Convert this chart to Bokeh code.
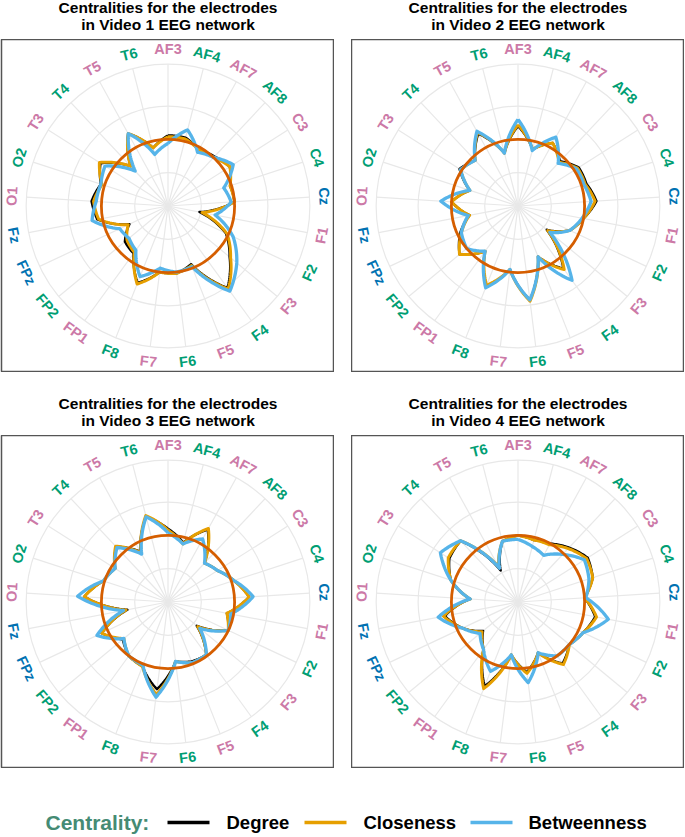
import numpy as np
from bokeh.plotting import figure
from bokeh.layouts import column, row, Spacer
from bokeh.models import Range1d
from bokeh.embed import file_html
from bokeh.resources import INLINE
from bokeh.core.properties import value

# ---------------- data ----------------
electrodes = ["AF3", "AF4", "AF7", "AF8", "C3", "C4", "Cz", "F1", "F2", "F3", "F4", "F5", "F6",
              "F7", "F8", "FP1", "FP2", "FPz", "Fz", "O1", "O2", "T3", "T4", "T5", "T6"]
videos = ["Video 1", "Video 2", "Video 3", "Video 4"]
series_names = ["Degree", "Closeness", "Betweenness"]
title_line1 = "Centralities for the electrodes"
title_line2 = "in {} EEG network"
legend_title = "Centrality:"

degree_v1 = [0.53, 0.53, 0.48, 0.51, 0.55, 0.49, 0.50, 0.24, 0.48, 0.60, 0.76, 0.47, 0.51,
             0.50, 0.62, 0.44, 0.42, 0.32, 0.54, 0.575, 0.53, 0.60, 0.41, 0.62, 0.45]
closeness_v1 = [0.52, 0.52, 0.48, 0.50, 0.55, 0.49, 0.50, 0.26, 0.49, 0.61, 0.77, 0.48, 0.51,
                0.50, 0.63, 0.43, 0.40, 0.33, 0.53, 0.56, 0.52, 0.61, 0.41, 0.62, 0.45]
betweenness_v1 = [0.47, 0.59, 0.46, 0.50, 0.58, 0.44, 0.475, 0.36, 0.54, 0.67, 0.79, 0.49, 0.50,
                  0.47, 0.57, 0.41, 0.38, 0.40, 0.58, 0.54, 0.53, 0.56, 0.36, 0.62, 0.40]

degree_v2 = [0.60, 0.44, 0.54, 0.46, 0.54, 0.54, 0.59, 0.50, 0.43, 0.28, 0.58, 0.41, 0.71,
             0.48, 0.65, 0.42, 0.57, 0.48, 0.37, 0.50, 0.38, 0.52, 0.47, 0.62, 0.41]
closeness_v2 = [0.61, 0.44, 0.54, 0.45, 0.53, 0.53, 0.58, 0.50, 0.43, 0.29, 0.59, 0.41, 0.72,
                0.48, 0.64, 0.42, 0.57, 0.47, 0.37, 0.50, 0.38, 0.51, 0.47, 0.63, 0.41]
betweenness_v2 = [0.65, 0.43, 0.59, 0.44, 0.52, 0.52, 0.55, 0.49, 0.43, 0.31, 0.69, 0.41, 0.71,
                  0.48, 0.66, 0.42, 0.50, 0.47, 0.38, 0.58, 0.38, 0.51, 0.47, 0.64, 0.41]

degree_v3 = [0.55, 0.46, 0.62, 0.40, 0.44, 0.52, 0.61, 0.45, 0.50, 0.28, 0.49, 0.48, 0.45,
             0.66, 0.52, 0.50, 0.44, 0.55, 0.31, 0.63, 0.51, 0.47, 0.57, 0.43, 0.66]
closeness_v3 = [0.54, 0.45, 0.63, 0.40, 0.44, 0.52, 0.61, 0.45, 0.50, 0.29, 0.49, 0.49, 0.45,
                0.70, 0.52, 0.50, 0.43, 0.55, 0.32, 0.63, 0.51, 0.47, 0.575, 0.42, 0.67]
betweenness_v3 = [0.52, 0.45, 0.54, 0.40, 0.44, 0.52, 0.64, 0.48, 0.50, 0.31, 0.49, 0.49, 0.45,
                  0.72, 0.51, 0.50, 0.43, 0.59, 0.34, 0.68, 0.51, 0.47, 0.56, 0.41, 0.66]

degree_v4 = [0.50, 0.48, 0.50, 0.56, 0.62, 0.59, 0.50, 0.59, 0.54, 0.50, 0.57, 0.41, 0.53,
             0.40, 0.68, 0.44, 0.34, 0.46, 0.56, 0.36, 0.53, 0.61, 0.63, 0.27, 0.47]
closeness_v4 = [0.50, 0.48, 0.49, 0.55, 0.61, 0.59, 0.50, 0.60, 0.54, 0.50, 0.58, 0.41, 0.54,
                0.40, 0.70, 0.44, 0.35, 0.46, 0.57, 0.36, 0.53, 0.62, 0.63, 0.30, 0.47]
betweenness_v4 = [0.47, 0.43, 0.40, 0.49, 0.59, 0.56, 0.51, 0.69, 0.54, 0.50, 0.50, 0.41, 0.61,
                  0.40, 0.56, 0.44, 0.37, 0.46, 0.61, 0.36, 0.53, 0.69, 0.63, 0.29, 0.47]

reference_level = 0.5
radial_breaks = [0.25, 0.5, 0.75]

# ---------------- style ----------------
series_colors = ["#000000", "#E69F00", "#56B4E9"]
series_widths = [2.4, 3.0, 3.3]
ref_color = "#D55E00"
grid_color = "#E8E8E8"
PINK, GREEN, BLUE = "#CC79A7", "#009E73", "#0072B2"
FONT = "Liberation Sans"
OUTER = 1.065      # outer grid ring (data units)
LABEL_R = 1.175    # radius of electrode labels
LIM = 1.25
FRAME = 333
TITLE_H = 39


def label_color(name):
    if name.endswith("z"):
        return BLUE
    return PINK if int(name[-1]) % 2 == 1 else GREEN


def polar_path(vals, steps=16):
    """Project a closed series onto polar coords (r varies linearly with angle, like coord_polar)."""
    n = len(vals)
    closed = list(vals) + [vals[0]]
    xs, ys = [], []
    t = np.linspace(0, 1, steps, endpoint=False)
    for i in range(n):
        th = 2 * np.pi * (i + t) / n
        r = closed[i] + (closed[i + 1] - closed[i]) * t
        xs.extend(r * np.sin(th))
        ys.extend(r * np.cos(th))
    xs.append(xs[0])
    ys.append(ys[0])
    return xs, ys


def blank(width, height, left=0):
    f = figure(frame_width=width, frame_height=height, x_range=Range1d(0, width),
               y_range=Range1d(0, height), output_backend="svg", toolbar_location=None,
               min_border=0, min_border_left=left)
    f.axis.visible = False
    f.grid.visible = False
    f.outline_line_color = None
    f.background_fill_color = "white"
    f.border_fill_color = "white"
    return f


def make_title(video, left):
    t = blank(FRAME, TITLE_H, left)
    t.text(x=[FRAME / 2, FRAME / 2], y=[TITLE_H - 7, TITLE_H - 24],
           text=[title_line1, title_line2.format(video)], text_color="black",
           text_font=value(FONT), text_font_size="15.5px", text_font_style="bold",
           text_align="center", text_baseline="middle")
    return t


def make_panel(series, left):
    p = figure(frame_width=FRAME, frame_height=FRAME,
               x_range=Range1d(-LIM, LIM), y_range=Range1d(-LIM, LIM),
               output_backend="svg", toolbar_location=None, min_border=0,
               min_border_left=left)
    p.axis.visible = False
    p.grid.visible = False
    p.outline_line_color = "#555555"
    p.outline_line_width = 1.5
    p.background_fill_color = "white"
    p.border_fill_color = "white"

    n = len(electrodes)
    th = 2 * np.pi * np.arange(n) / n
    # spokes
    p.segment(x0=np.zeros(n), y0=np.zeros(n), x1=OUTER * np.sin(th), y1=OUTER * np.cos(th),
              line_color=grid_color, line_width=1.2)
    # rings
    for rb in radial_breaks + [OUTER]:
        p.circle(x=0, y=0, radius=rb, fill_color=None, line_color=grid_color, line_width=1.2)

    # series
    for vals, col, w in zip(series, series_colors, series_widths):
        xs, ys = polar_path(vals)
        p.line(xs, ys, line_color=col, line_width=w, line_join="round")

    # reference circle
    p.circle(x=0, y=0, radius=reference_level, fill_color=None, line_color=ref_color, line_width=2.8)

    # labels
    deg = np.degrees(th)
    angles = np.where((deg > 90) & (deg < 270), np.radians(180 - deg), np.radians(-deg))
    p.text(x=LABEL_R * np.sin(th), y=LABEL_R * np.cos(th), text=electrodes, angle=angles,
           text_color=[label_color(e) for e in electrodes], text_align="center",
           text_baseline="middle", text_font=value(FONT), text_font_size="14.5px",
           text_font_style="bold")
    return p


all_series = [
    (degree_v1, closeness_v1, betweenness_v1),
    (degree_v2, closeness_v2, betweenness_v2),
    (degree_v3, closeness_v3, betweenness_v3),
    (degree_v4, closeness_v4, betweenness_v4),
]
lefts = [1, 0, 1, 0]
titles = [make_title(v, l) for v, l in zip(videos, lefts)]
panels = [make_panel(s, l) for s, l in zip(all_series, lefts)]

# ---------------- legend ----------------
LW, LH = 685, 68
leg = blank(LW, LH)
ly = 14
leg.text(x=[45], y=[ly], text=[legend_title], text_color="#458B74", text_font=value(FONT),
         text_font_size="21px", text_font_style="bold", text_baseline="middle", text_align="left")
line_x0 = [167, 304, 470]
line_len = 42
text_x = [226, 363, 528]
for x0, tx, name, col in zip(line_x0, text_x, series_names, series_colors):
    leg.segment(x0=[x0], y0=[ly], x1=[x0 + line_len], y1=[ly], line_color=col, line_width=3.4)
    leg.text(x=[tx], y=[ly], text=[name], text_color="black", text_font=value(FONT),
             text_font_size="18.5px", text_font_style="bold", text_baseline="middle", text_align="left")

layout = column(
    row(titles[0], titles[1], spacing=17),
    row(panels[0], panels[1], spacing=17),
    Spacer(height=24),
    row(titles[2], titles[3], spacing=17),
    row(panels[2], panels[3], spacing=17),
    leg,
)

open("out.html", "w").write(file_html(layout, INLINE))
